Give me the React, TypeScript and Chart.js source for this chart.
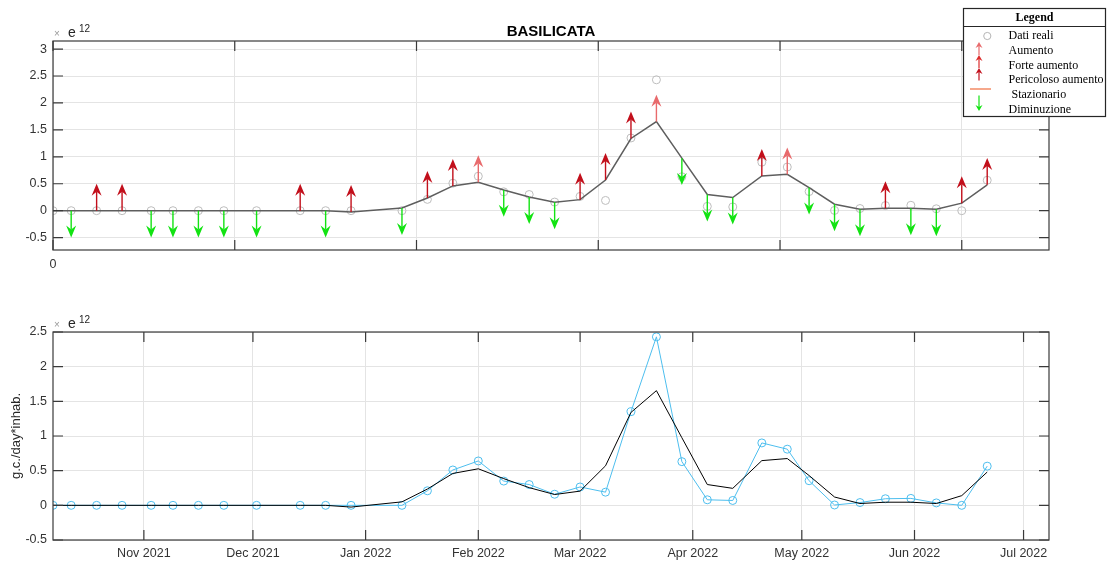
import React, { useEffect, useRef } from "react";
import { Chart, registerables } from "chart.js";

Chart.register(...registerables);

// ---------------- DATA ----------------
const startDate = "2021-10-07";
const endDate = "2022-07-08";

const sampleDates = [
  "2021-10-07", "2021-10-12", "2021-10-19", "2021-10-26", "2021-11-03", "2021-11-09",
  "2021-11-16", "2021-11-23", "2021-12-02", "2021-12-14", "2021-12-21", "2021-12-28",
  "2022-01-11", "2022-01-18", "2022-01-25", "2022-02-01", "2022-02-08", "2022-02-15",
  "2022-02-22", "2022-03-01", "2022-03-08", "2022-03-15", "2022-03-22", "2022-03-29",
  "2022-04-05", "2022-04-12", "2022-04-20", "2022-04-27", "2022-05-03", "2022-05-10",
  "2022-05-17", "2022-05-24", "2022-05-31", "2022-06-07", "2022-06-14", "2022-06-21",
];

// Dati reali (x 1e12)
const realValues = [
  0, 0, 0, 0, 0, 0,
  0, 0, 0, 0, 0, 0,
  0, 0.21, 0.51, 0.64, 0.35, 0.3,
  0.16, 0.265, 0.19, 1.35, 2.43, 0.63,
  0.08, 0.07, 0.9, 0.81, 0.355, 0.005,
  0.04, 0.095, 0.1, 0.035, 0, 0.565,
];

// Smoothed / model curve (x 1e12)
const modelValues = [
  0, 0, 0, 0, 0, 0,
  0, 0, 0, 0, 0, -0.025,
  0.05, 0.235, 0.46, 0.527, 0.385, 0.255,
  0.156, 0.205, 0.57, 1.34, 1.654, 0.975,
  0.3, 0.245, 0.645, 0.675, 0.43, 0.12,
  0.026, 0.045, 0.045, 0.026, 0.14, 0.48,
];

// trend arrows: "" none, "down" Diminuzione, "up1" Aumento, "up2" Forte aumento, "up3" Pericoloso aumento
const trendClass = [
  "", "down", "up3", "up3", "down", "down",
  "down", "down", "down", "up3", "down", "up3",
  "down", "up3", "up3", "up1", "down", "down",
  "down", "up3", "up3", "up3", "up1", "down",
  "down", "down", "up3", "up1", "down", "down",
  "down", "up3", "down", "down", "up3", "up3",
];
const arrowLength = 0.5;

const topXTicks = [0, 50, 100, 150, 200, 250];
const topXTickLabels = ["0", "", "", "", "", ""];
const topYTicks = [-0.5, 0, 0.5, 1, 1.5, 2, 2.5, 3];
const topYRange = [-0.73, 3.15];

const monthTickDates = [
  "2021-11-01", "2021-12-01", "2022-01-01", "2022-02-01", "2022-03-01",
  "2022-04-01", "2022-05-01", "2022-06-01", "2022-07-01",
];
const monthTickLabels = [
  "Nov 2021", "Dec 2021", "Jan 2022", "Feb 2022", "Mar 2022",
  "Apr 2022", "May 2022", "Jun 2022", "Jul 2022",
];
const bottomYTicks = [-0.5, 0, 0.5, 1, 1.5, 2, 2.5];
const bottomYRange = [-0.5, 2.5];

const chartTitle = "BASILICATA";
const yAxisTitle = "g.c./day*inhab.";
const exponentText = "12";
const legendTitle = "Legend";
const legendLabels = ["Dati reali", "Aumento", "Forte aumento", "Pericoloso aumento", " Stazionario", "Diminuzione"];

// ---------------- helpers ----------------
const dayOf = (s: string) =>
  Math.round((Date.parse(s + "T00:00:00Z") - Date.parse(startDate + "T00:00:00Z")) / 86400000);
const sampleDays = sampleDates.map(dayOf);
const xMax = dayOf(endDate);
const monthTickDays = monthTickDates.map(dayOf);

const SANS = '"Liberation Sans", Arial, Helvetica, sans-serif';
const SERIF = '"Liberation Serif", "Times New Roman", serif';
const gridColor = "#e4e4e4";
const boxColor = "#3a3a3a";
const tickColor = "#333333";
const colors: Record<string, string> = {
  up1: "#e86a6c",
  up2: "#dc2a2a",
  up3: "#c20f1b",
  down: "#12e312",
};

function drawArrow(ctx: CanvasRenderingContext2D, x: number, y0: number, y1: number, color: string, headLen: number, halfW: number, notch: number, lw: number) {
  const dir = y1 > y0 ? 1 : -1;
  ctx.save();
  ctx.strokeStyle = color;
  ctx.fillStyle = color;
  ctx.lineWidth = lw;
  ctx.beginPath();
  ctx.moveTo(x, y0);
  ctx.lineTo(x, y1 - dir * (headLen - notch));
  ctx.stroke();
  ctx.beginPath();
  ctx.moveTo(x, y1);
  ctx.lineTo(x - halfW, y1 - dir * headLen);
  ctx.lineTo(x, y1 - dir * (headLen - notch));
  ctx.lineTo(x + halfW, y1 - dir * headLen);
  ctx.closePath();
  ctx.fill();
  ctx.restore();
}

const framePlugin = {
  id: "frame",
  afterDraw(chart: any) {
    const { ctx, chartArea: a, scales } = chart;
    ctx.save();
    ctx.strokeStyle = boxColor;
    ctx.lineWidth = 1.2;
    ctx.strokeRect(a.left, a.top, a.right - a.left, a.bottom - a.top);
    const tl = 10;
    ctx.beginPath();
    scales.x.ticks.forEach((t: any) => {
      const x = scales.x.getPixelForValue(t.value);
      ctx.moveTo(x, a.top);
      ctx.lineTo(x, a.top + tl);
      ctx.moveTo(x, a.bottom);
      ctx.lineTo(x, a.bottom - tl);
    });
    scales.y.ticks.forEach((t: any) => {
      const y = scales.y.getPixelForValue(t.value);
      ctx.moveTo(a.left, y);
      ctx.lineTo(a.left + tl, y);
      ctx.moveTo(a.right, y);
      ctx.lineTo(a.right - tl, y);
    });
    ctx.stroke();
    // exponent label
    ctx.textBaseline = "middle";
    ctx.textAlign = "left";
    ctx.fillStyle = "#9a9a9a";
    ctx.font = `10px ${SANS}`;
    ctx.fillText("\u00d7", a.left + 1, a.top - 7);
    ctx.fillStyle = "#262626";
    ctx.font = `14px ${SANS}`;
    ctx.fillText("e", a.left + 15, a.top - 8);
    ctx.font = `10px ${SANS}`;
    ctx.fillText(exponentText, a.left + 26, a.top - 12);
    ctx.restore();
  },
};

const arrowPlugin = {
  id: "arrows",
  afterDatasetsDraw(chart: any) {
    const { ctx, scales } = chart;
    sampleDays.forEach((d, i) => {
      const c = trendClass[i];
      if (!c) return;
      const x = scales.x.getPixelForValue(d);
      const base = modelValues[i];
      const tip = c === "down" ? base - arrowLength : base + arrowLength;
      drawArrow(ctx, x, scales.y.getPixelForValue(base), scales.y.getPixelForValue(tip), colors[c], 12, 5, 4, 1.4);
    });
  },
};

const legendPlugin = {
  id: "legendBox",
  afterDraw(chart: any) {
    const ctx = chart.ctx;
    const L = 963.5, T = 8.5, R = 1105.5, B = 116.5;
    ctx.save();
    ctx.fillStyle = "#ffffff";
    ctx.fillRect(L, T, R - L, B - T);
    ctx.strokeStyle = "#262626";
    ctx.lineWidth = 1.2;
    ctx.strokeRect(L, T, R - L, B - T);
    ctx.beginPath();
    ctx.moveTo(L, 26.5);
    ctx.lineTo(R, 26.5);
    ctx.stroke();
    ctx.fillStyle = "#000";
    ctx.textBaseline = "middle";
    ctx.textAlign = "center";
    ctx.font = `bold 12px ${SERIF}`;
    ctx.fillText(legendTitle, (L + R) / 2, 17.5);
    ctx.textAlign = "left";
    ctx.font = `12px ${SERIF}`;
    const ys = [36, 50.5, 65.5, 80, 94.5, 109.5];
    legendLabels.forEach((t, i) => ctx.fillText(t, 1008.5, ys[i]));
    // icons
    ctx.strokeStyle = "#b5b5b5";
    ctx.lineWidth = 1;
    ctx.beginPath();
    ctx.arc(987.3, 36, 3.6, 0, Math.PI * 2);
    ctx.stroke();
    drawArrow(ctx, 979, 55, 42, colors.up1, 6, 3.5, 2, 1.2);
    drawArrow(ctx, 979, 68, 55, colors.up2, 6, 3.5, 2, 1.2);
    drawArrow(ctx, 979, 80.5, 68, colors.up3, 6, 3.5, 2, 1.2);
    ctx.strokeStyle = "#f6a88c";
    ctx.lineWidth = 2;
    ctx.beginPath();
    ctx.moveTo(970, 89);
    ctx.lineTo(991, 89);
    ctx.stroke();
    drawArrow(ctx, 979, 95.5, 111, colors.down, 6, 3.5, 2, 1.2);
    ctx.restore();
  },
};

function App() {
  const topRef = useRef<HTMLCanvasElement>(null);
  const botRef = useRef<HTMLCanvasElement>(null);

  useEffect(() => {
    const tickFont = { family: SANS, size: 12.5 };
    const top = new Chart(topRef.current as HTMLCanvasElement, {
      type: "line",
      data: {
        datasets: [
          {
            label: "Dati reali",
            data: sampleDays.map((d, i) => ({ x: d, y: realValues[i] })),
            showLine: false,
            pointRadius: 4,
            pointBorderWidth: 1,
            borderColor: "#bdbdbd",
            backgroundColor: "rgba(0,0,0,0)",
            pointBackgroundColor: "rgba(0,0,0,0)",
            order: 2,
          },
          {
            label: "model",
            data: sampleDays.map((d, i) => ({ x: d, y: modelValues[i] })),
            borderColor: "#5e5e5e",
            borderWidth: 1.5,
            pointRadius: 0,
            tension: 0,
            fill: false,
            order: 1,
          },
        ],
      },
      options: {
        responsive: false,
        animation: false,
        events: [],
        layout: { padding: { left: 0, right: 59, top: 0, bottom: 0 } },
        plugins: {
          legend: { display: false },
          tooltip: { enabled: false },
          title: {
            display: true,
            text: chartTitle,
            fullSize: false,
            color: "#000",
            font: { family: SANS, size: 15, weight: "bold" },
            padding: { top: 23, bottom: 0 },
          },
        },
        scales: {
          x: {
            type: "linear",
            min: 0,
            max: xMax,
            grid: { color: gridColor, drawTicks: false },
            border: { display: false },
            ticks: {
              padding: 7,
              color: tickColor,
              font: tickFont,
              autoSkip: false,
              maxRotation: 0,
              minRotation: 0,
              callback: (v: any) => topXTickLabels[topXTicks.indexOf(Number(v))] ?? "",
            },
            afterBuildTicks: (s: any) => {
              s.ticks = topXTicks.map((v) => ({ value: v }));
            },
            afterFit: (s: any) => {
              s.height = 35;
            },
          },
          y: {
            min: topYRange[0],
            max: topYRange[1],
            grid: { color: gridColor, drawTicks: false },
            border: { display: false },
            ticks: { padding: 6, color: tickColor, font: tickFont, callback: (v: any) => String(v) },
            afterBuildTicks: (s: any) => {
              s.ticks = topYTicks.map((v) => ({ value: v }));
            },
            afterFit: (s: any) => {
              s.width = 53;
            },
          },
        },
      } as any,
      plugins: [framePlugin, arrowPlugin, legendPlugin],
    });

    const bottom = new Chart(botRef.current as HTMLCanvasElement, {
      type: "line",
      data: {
        datasets: [
          {
            label: "model",
            data: sampleDays.map((d, i) => ({ x: d, y: modelValues[i] })),
            borderColor: "#000000",
            borderWidth: 1,
            pointRadius: 0,
            tension: 0,
            fill: false,
            order: 1,
          },
          {
            label: "Dati reali",
            data: sampleDays.map((d, i) => ({ x: d, y: realValues[i] })),
            borderColor: "#4dbeee",
            borderWidth: 1,
            pointRadius: 4,
            pointBorderWidth: 1,
            pointBorderColor: "#4dbeee",
            pointBackgroundColor: "rgba(0,0,0,0)",
            backgroundColor: "rgba(0,0,0,0)",
            tension: 0,
            fill: false,
            order: 2,
          },
        ],
      },
      options: {
        responsive: false,
        animation: false,
        events: [],
        layout: { padding: { left: 0, right: 59, top: 47, bottom: 0 } },
        plugins: { legend: { display: false }, tooltip: { enabled: false } },
        scales: {
          x: {
            type: "linear",
            min: 0,
            max: xMax,
            grid: { color: gridColor, drawTicks: false },
            border: { display: false },
            ticks: {
              padding: 6,
              color: tickColor,
              font: tickFont,
              autoSkip: false,
              maxRotation: 0,
              minRotation: 0,
              callback: (v: any) => monthTickLabels[monthTickDays.indexOf(Number(v))] ?? "",
            },
            afterBuildTicks: (s: any) => {
              s.ticks = monthTickDays.map((v) => ({ value: v }));
            },
            afterFit: (s: any) => {
              s.height = 25;
            },
          },
          y: {
            min: bottomYRange[0],
            max: bottomYRange[1],
            grid: { color: gridColor, drawTicks: false },
            border: { display: false },
            title: {
              display: true,
              text: yAxisTitle,
              color: "#262626",
              font: { family: SANS, size: 13 },
              padding: { top: 9, bottom: 0 },
            },
            ticks: { padding: 6, color: tickColor, font: tickFont, callback: (v: any) => String(v) },
            afterBuildTicks: (s: any) => {
              s.ticks = bottomYTicks.map((v) => ({ value: v }));
            },
            afterFit: (s: any) => {
              s.width = 53;
            },
          },
        },
      } as any,
      plugins: [framePlugin],
    });

    return () => {
      top.destroy();
      bottom.destroy();
    };
  }, []);

  return (
    <div style={{ position: "absolute", left: 0, top: 0, width: 1108, height: 565, background: "#fff" }}>
      <canvas ref={topRef} width={1108} height={285} style={{ position: "absolute", left: 0, top: 0, display: "block" }} />
      <canvas ref={botRef} width={1108} height={280} style={{ position: "absolute", left: 0, top: 285, display: "block" }} />
    </div>
  );
}

export default App;
